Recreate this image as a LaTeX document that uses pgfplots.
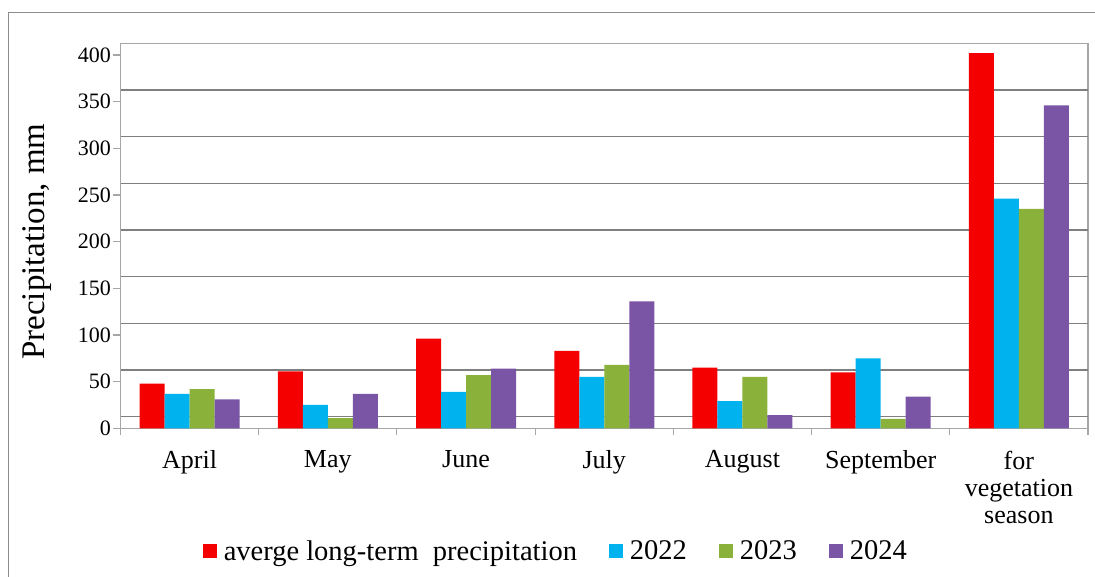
\documentclass[border=0pt]{standalone}
\usepackage{fontspec}
\setmainfont{Liberation Serif}
\usepackage{pgfplots}
\pgfplotsset{compat=1.18}
\definecolor{cred}{HTML}{F50000}
\definecolor{cblue}{HTML}{00B2EE}
\definecolor{cgreen}{HTML}{8AB23A}
\definecolor{cpurple}{HTML}{7A55A6}
\definecolor{framegray}{HTML}{8C8C8C}
\definecolor{gridgray}{HTML}{7F7F7F}
\definecolor{axgray}{HTML}{A6A6A6}
\begin{document}
\begin{tikzpicture}
\useasboundingbox (0pt,0pt) rectangle (1095pt,576pt);
\draw[framegray, line width=1.2pt] (8.5pt,-5pt) -- (8.5pt,563.3pt) -- (1100pt,563.3pt);
\begin{axis}[
  at={(120.5pt,147.7pt)}, anchor=south west,
  scale only axis, width=967.5pt, height=385pt,
  xmin=-0.5, xmax=6.5, ymin=0, ymax=412.5,
  ybar=0pt, bar width=25pt,
  axis line style={axgray, line width=1.1pt},
  tick align=outside,
  xtick={0,...,6},
  xticklabels={April,May,June,July,August,September,{for\\vegetation\\season}},
  xtick pos=bottom, ytick pos=left,
  x tick style={draw=none},
  y tick style={axgray, line width=1.1pt},
  major tick length=7pt,
  ytick={0,50,...,400},
  extra x ticks={-0.5,0.5,...,6.5},
  extra x tick labels={},
  extra x tick style={x tick style={draw=axgray, line width=1.1pt}},
  extra y ticks={12.5,62.5,...,362.5},
  extra y tick labels={},
  extra y tick style={grid=major, y tick style={draw=none}},
  major grid style={gridgray, line width=1.4pt},
  /pgf/number format/assume math mode=true,
  yticklabel style={font=\fontsize{22}{22}\selectfont, xshift=1pt},
  xticklabel style={font=\fontsize{26}{27}\selectfont, align=center, yshift=-12pt},
  ylabel={Precipitation, mm},
  ylabel style={at={(axis description cs:-0.0863,0.485)}, anchor=center, font=\fontsize{33}{33}\selectfont},
  legend columns=4,
  legend style={at={(axis description cs:0.450,-0.3187)}, anchor=center, draw=none,
    font=\fontsize{28.5}{28}\selectfont,
    /tikz/every even column/.append style={column sep=30pt},
    /tikz/every odd column/.append style={column sep=5pt},
    nodes={inner sep=2pt}},
  legend image code/.code={\fill[#1] (0pt,-7pt) rectangle (14pt,7pt);},
  every axis plot/.append style={draw=none},
]
\addplot[fill=cred] coordinates {(0,48) (1,61) (2,96) (3,83) (4,65) (5,60) (6,402)};
\addplot[fill=cblue] coordinates {(0,37) (1,25) (2,39) (3,55) (4,29) (5,75) (6,246)};
\addplot[fill=cgreen] coordinates {(0,42) (1,11) (2,57) (3,68) (4,55) (5,10) (6,235)};
\addplot[fill=cpurple] coordinates {(0,31) (1,37) (2,64) (3,136) (4,14) (5,34) (6,346)};
\legend{averge long-term~~precipitation, 2022, 2023, 2024}
\end{axis}
\end{tikzpicture}
\end{document}
